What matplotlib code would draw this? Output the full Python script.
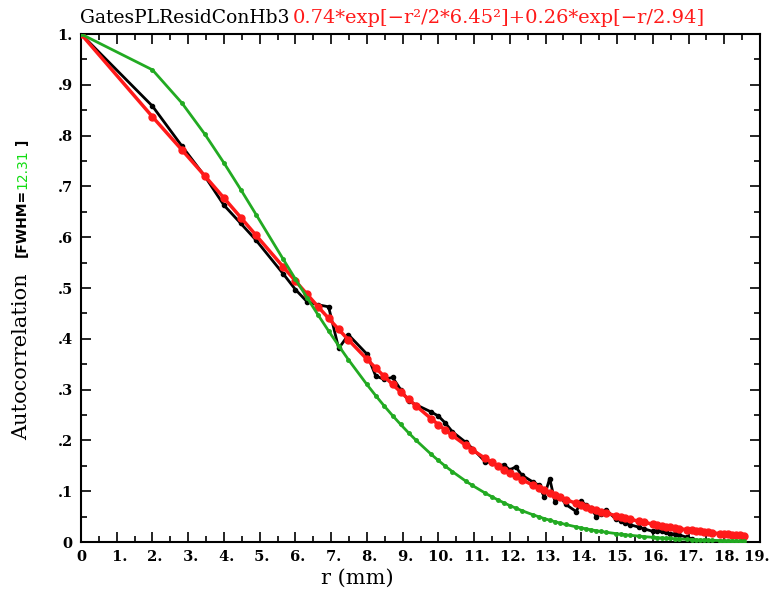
import numpy as np
import matplotlib
matplotlib.use("Agg")
import matplotlib.pyplot as plt
import matplotlib.transforms as mtransforms
from matplotlib.ticker import MultipleLocator, FixedLocator

# separation r (mm)
r = [0.0, 2.0, 2.828, 3.464, 4.0, 4.472, 4.899, 5.657, 6.0, 6.325, 6.633, 6.928, 7.211, 7.483,
     8.0, 8.246, 8.485, 8.718, 8.944, 9.165, 9.381, 9.798, 10.0, 10.198, 10.392, 10.770, 10.954,
     11.314, 11.489, 11.662, 11.832, 12.0, 12.166, 12.329, 12.649, 12.806, 12.961, 13.115, 13.266,
     13.416, 13.565, 13.856, 14.0, 14.142, 14.283, 14.422, 14.560, 14.697, 14.967, 15.100, 15.232,
     15.362, 15.620, 15.748, 16.0, 16.125, 16.248, 16.371, 16.492, 16.613, 16.733, 16.971, 17.088,
     17.205, 17.321, 17.436, 17.550, 17.664, 17.889, 18.0, 18.111, 18.221, 18.330, 18.439, 18.547]

# measured autocorrelation (black)
acorr = [1.000, 0.858, 0.779, 0.720, 0.663, 0.627, 0.594, 0.528, 0.497, 0.473, 0.467, 0.463, 0.381, 0.408,
         0.370, 0.327, 0.320, 0.324, 0.300, 0.278, 0.270, 0.256, 0.248, 0.234, 0.217, 0.196, 0.184,
         0.158, 0.156, 0.150, 0.152, 0.142, 0.148, 0.132, 0.118, 0.112, 0.089, 0.125, 0.078,
         0.089, 0.074, 0.060, 0.080, 0.072, 0.066, 0.050, 0.056, 0.063, 0.045, 0.042, 0.037,
         0.034, 0.029, 0.026, 0.021, 0.022, 0.022, 0.019, 0.016, 0.016, 0.014, 0.009, 0.006,
         0.002, -0.002, -0.004, -0.003, -0.005, -0.004, -0.002, -0.006]

# two-component fit (red)
fit = [1.0, 0.837, 0.7715, 0.7207, 0.6772, 0.6387, 0.6037, 0.5417, 0.5139, 0.4878, 0.4633, 0.4403, 0.4185,
       0.3979, 0.36, 0.3426, 0.326, 0.3102, 0.2953, 0.2812, 0.2677, 0.2427, 0.2311, 0.2201, 0.2097,
       0.1902, 0.1812, 0.1644, 0.1567, 0.1493, 0.1422, 0.1355, 0.1291, 0.123, 0.1117, 0.1064, 0.1014,
       0.0966, 0.0921, 0.0878, 0.0836, 0.076, 0.0724, 0.069, 0.0658, 0.0627, 0.0597, 0.0569, 0.0517,
       0.0493, 0.047, 0.0448, 0.0407, 0.0388, 0.0352, 0.0336, 0.032, 0.0305, 0.0291, 0.0277, 0.0265,
       0.024, 0.0229, 0.0218, 0.0208, 0.0199, 0.0189, 0.018, 0.0164, 0.0156, 0.0149, 0.0142, 0.0136,
       0.0129, 0.0123]

# gaussian with FWHM=12.31 (green)
gauss = [1.0, 0.9294, 0.8638, 0.8029, 0.7462, 0.6936, 0.6446, 0.5568, 0.5175, 0.481, 0.4471, 0.4155, 0.3862,
         0.3589, 0.3101, 0.2882, 0.2678, 0.2489, 0.2314, 0.215, 0.1999, 0.1727, 0.1605, 0.1491, 0.1386,
         0.1197, 0.1113, 0.0961, 0.0894, 0.083, 0.0772, 0.0717, 0.0667, 0.062, 0.0535, 0.0498, 0.0462,
         0.043, 0.0399, 0.0371, 0.0345, 0.0298, 0.0277, 0.0258, 0.0239, 0.0222, 0.0207, 0.0192, 0.0166,
         0.0154, 0.0143, 0.0133, 0.0115, 0.0107, 0.0092, 0.0086, 0.008, 0.0074, 0.0069, 0.0064, 0.006,
         0.0051, 0.0048, 0.0044, 0.0041, 0.0038, 0.0036, 0.0033, 0.0029, 0.0027, 0.0025, 0.0023, 0.0021,
         0.002, 0.0018]

xticks = list(range(0, 20))
xlabels = ["0"] + [" " + str(i) + "." for i in range(1, 20)]
yticks = [0, .1, .2, .3, .4, .5, .6, .7, .8, .9, 1.0]
ylabels = ["0", ".1", ".2", ".3", ".4", ".5", ".6", ".7", ".8", ".9", "1."]

W, H = 770, 592
fig = plt.figure(figsize=(W / 100, H / 100), dpi=100)
ax = fig.add_axes([81 / W, 1 - 542 / H, (760 - 81) / W, (542 - 34) / H])

ax.plot(r[:len(acorr)], acorr, color='black', lw=2, marker='o', ms=3, zorder=3)
ax.plot(r, fit, color='#ff1a1a', lw=2.5, marker='o', ms=5, zorder=4)
ax.plot(r, gauss, color='#22aa22', lw=2, marker='o', ms=2.5, zorder=5)

ax.set_xlim(0, 19)
ax.set_ylim(0, 1)
ax.xaxis.set_major_locator(FixedLocator(xticks))
ax.set_xticklabels(xlabels)
ax.xaxis.set_minor_locator(MultipleLocator(0.5))
ax.yaxis.set_major_locator(FixedLocator(yticks))
ax.set_yticklabels(ylabels)
ax.yaxis.set_minor_locator(MultipleLocator(0.05))
ax.tick_params(which='both', direction='in', top=True, right=True, width=1.2)
ax.tick_params(which='major', length=7, labelsize=10.5, pad=6)
ax.tick_params(which='minor', length=4)
for lab in ax.get_xticklabels() + ax.get_yticklabels():
    lab.set_fontfamily('DejaVu Serif')
    lab.set_fontweight('bold')
# last x label sits against the figure edge
last = ax.get_xticklabels()[-1]
last.set_transform(last.get_transform() + mtransforms.ScaledTranslation(-6 / 100, 0, fig.dpi_scale_trans))
for sp in ax.spines.values():
    sp.set_linewidth(1.5)

fig.text(357 / W, 1 - 578 / H, "r (mm)", fontsize=15, fontfamily='DejaVu Serif', ha='center', va='center')

# title pieces
fig.text(80 / W, 1 - 23 / H, "GatesPLResidConHb3", fontsize=13.5, fontfamily='DejaVu Serif',
         va='baseline', ha='left')
fig.text(293 / W, 1 - 23 / H, "0.74*exp[\u2212r\u00b2/2*6.45\u00b2]+0.26*exp[\u2212r/2.94]", fontsize=14,
         fontfamily='DejaVu Serif', color='#ff1a1a', va='baseline', ha='left')

# y label pieces
fig.text(22 / W, 1 - 440 / H, "Autocorrelation", rotation=90, fontsize=15, fontfamily='DejaVu Serif',
         ha='center', va='bottom')
fig.text(22 / W, 1 - 257 / H, "[FWHM=", rotation=90, fontsize=10, fontweight='bold',
         ha='center', va='bottom')
fig.text(22 / W, 1 - 189 / H, "12.31", rotation=90, fontsize=10, color='#11dd11',
         ha='center', va='bottom')
fig.text(22 / W, 1 - 145 / H, "]", rotation=90, fontsize=10, fontweight='bold',
         ha='center', va='bottom')

fig.savefig("out.png")
